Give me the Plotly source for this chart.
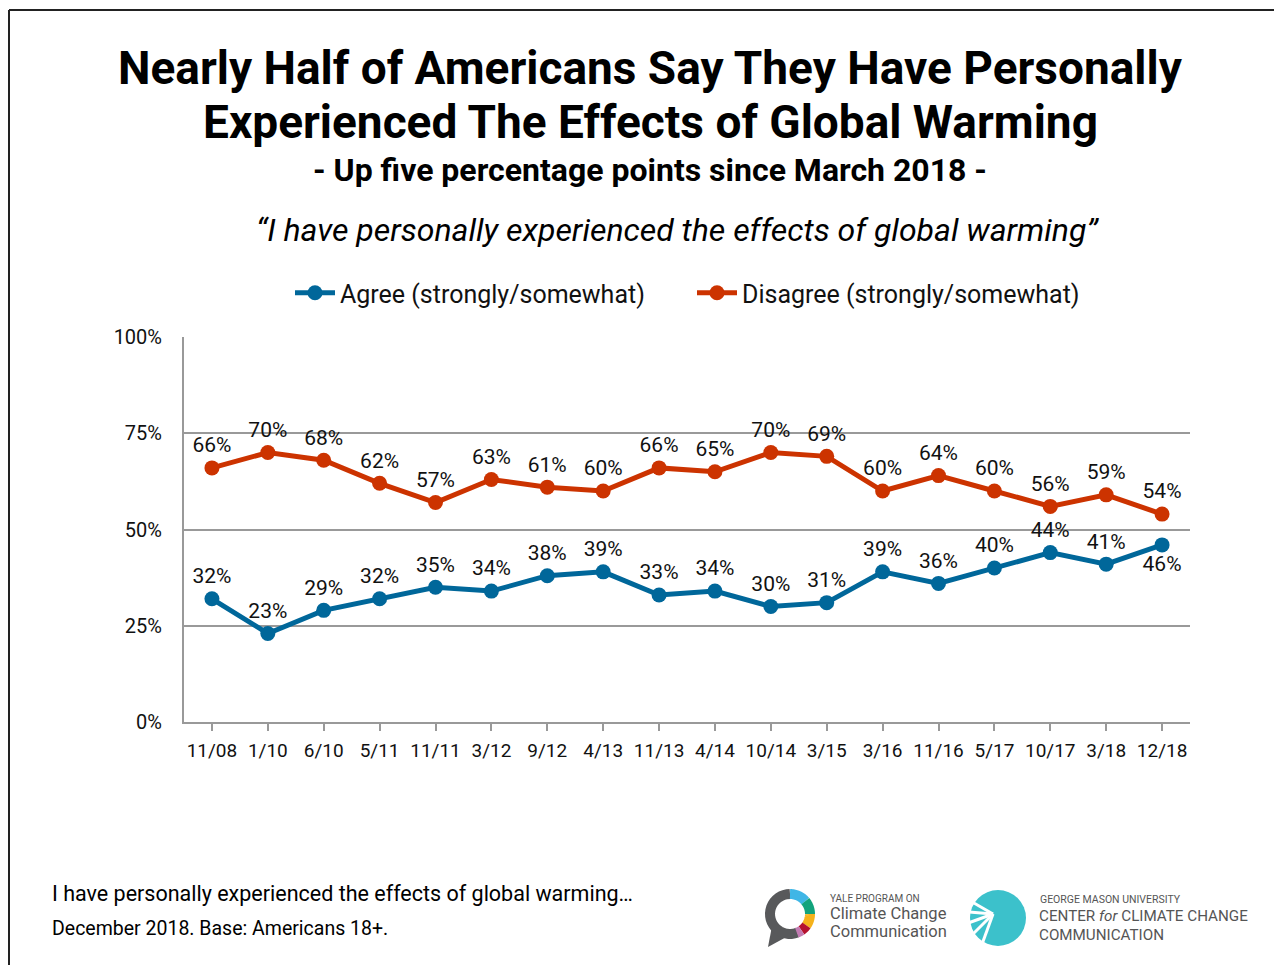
import numpy as np
import plotly.graph_objects as go

# page has an 8px body margin, so the figure is drawn 8px in from the window
OFF = 8
W, H = 1282 - OFF, 965 - OFF
PL, PT, PW, PH = 184, 337, 1006, 385  # plot area in window pixels

dates = ["11/08", "1/10", "6/10", "5/11", "11/11", "3/12", "9/12", "4/13", "11/13",
         "4/14", "10/14", "3/15", "3/16", "11/16", "5/17", "10/17", "3/18", "12/18"]
agree = [32, 23, 29, 32, 35, 34, 38, 39, 33, 34, 30, 31, 39, 36, 40, 44, 41, 46]
disagree = [66, 70, 68, 62, 57, 63, 61, 60, 66, 65, 70, 69, 60, 64, 60, 56, 59, 54]

BLUE = "#00679A"
RED = "#CC3300"
FONT = "Roboto"


def px(x):
    return (x - PL) / PW


def py(y):
    return 1 - (y - PT) / PH


agree_pos = ["top center"] * (len(agree) - 1) + ["bottom center"]

fig = go.Figure()
fig.add_trace(go.Scatter(
    x=dates, y=agree, name="Agree (strongly/somewhat)",
    mode="lines+markers+text",
    line=dict(color=BLUE, width=5), marker=dict(color=BLUE, size=15),
    text=[f"{v}%" for v in agree], textposition=agree_pos,
    textfont=dict(family=FONT, size=21, color="#111"),
))
fig.add_trace(go.Scatter(
    x=dates, y=disagree, name="Disagree (strongly/somewhat)",
    mode="lines+markers+text",
    line=dict(color=RED, width=5), marker=dict(color=RED, size=15),
    text=[f"{v}%" for v in disagree], textposition="top center",
    textfont=dict(family=FONT, size=21, color="#111"),
))

annotations = [
    dict(x=px(650), y=py(68), text="<b>Nearly Half of Americans Say They Have Personally</b>",
         font=dict(size=46, color="#000")),
    dict(x=px(650), y=py(122), text="<b>Experienced The Effects of Global Warming</b>",
         font=dict(size=46, color="#000")),
    dict(x=px(650), y=py(170), text="<b>- Up five percentage points since March 2018 -</b>",
         font=dict(size=32, color="#000")),
    dict(x=px(677), y=py(230), text="<i>\u201cI have personally experienced the effects of global warming\u201d</i>",
         font=dict(size=32, color="#000")),
    dict(x=px(50), y=py(893), xanchor="left",
         text="I have personally experienced the effects of global warming\u2026",
         font=dict(size=21.5, color="#000")),
    dict(x=px(50), y=py(928), xanchor="left", text="December 2018. Base: Americans 18+.",
         font=dict(size=19.5, color="#000")),
    dict(x=px(828), y=py(898), xanchor="left", text="YALE PROGRAM ON",
         font=dict(size=10, color="#555")),
    dict(x=px(828), y=py(913), xanchor="left", text="Climate Change",
         font=dict(size=16.5, color="#555")),
    dict(x=px(828), y=py(931), xanchor="left", text="Communication",
         font=dict(size=16.5, color="#555")),
    dict(x=px(1038), y=py(899), xanchor="left", text="GEORGE MASON UNIVERSITY",
         font=dict(size=10.5, color="#555")),
    dict(x=px(1037), y=py(916), xanchor="left", text="CENTER <i>for</i> CLIMATE CHANGE",
         font=dict(size=15.2, color="#555")),
    dict(x=px(1037), y=py(935), xanchor="left", text="COMMUNICATION",
         font=dict(size=15.2, color="#555")),
]
for a in annotations:
    a.update(xref="paper", yref="paper", showarrow=False, yanchor="middle",
             font=dict(family=FONT, **a["font"]))
    a.setdefault("xanchor", "center")

shapes = [
    dict(type="line", x0=px(9), x1=px(1290), y0=py(10), y1=py(10), line=dict(color="#222", width=2)),
    dict(type="line", x0=px(9), x1=px(9), y0=py(10), y1=py(980), line=dict(color="#222", width=2)),
]


def arc(cx, cy, r, a0, a1, color, width):
    t = np.radians(np.linspace(a0, a1, 24))
    xs = cx + r * np.cos(t)
    ys = cy - r * np.sin(t)
    path = "M " + " L ".join(f"{px(x)},{py(y)}" for x, y in zip(xs, ys))
    return dict(type="path", path=path, line=dict(color=color, width=width))


# Yale logo ring
cx, cy, r = 790, 914, 20
shapes.append(dict(type="path",
                   path=f"M {px(772)},{py(926)} L {px(768)},{py(947)} L {px(790)},{py(935)} Z",
                   fillcolor="#58595B", line=dict(width=0)))
shapes.append(arc(cx, cy, r, 90, 292, "#58595B", 10))
shapes.append(arc(cx, cy, r, 90, 40, "#3FB6E6", 10))
shapes.append(arc(cx, cy, r, 40, 0, "#12A37C", 10))
shapes.append(arc(cx, cy, r, 0, -35, "#F5B21B", 10))
shapes.append(arc(cx, cy, r, -35, -55, "#B5122F", 10))
shapes.append(arc(cx, cy, r, -55, -70, "#C27BB2", 10))

# GMU logo
shapes.append(dict(type="circle", x0=px(970), x1=px(1026), y0=py(890), y1=py(946),
                   fillcolor="#3CC1CB", line=dict(width=0)))
for ang in [150, 175, 200, 225, 250]:
    t = np.radians(ang)
    shapes.append(dict(type="line", x0=px(993), y0=py(914),
                       x1=px(993 + 30 * np.cos(t)), y1=py(914 - 30 * np.sin(t)),
                       line=dict(color="white", width=3)))

for s in shapes:
    s.update(xref="paper", yref="paper", layer="above")

fig.update_layout(
    width=W, height=H,
    margin=dict(l=PL - OFF, r=W - (PL - OFF) - PW, t=PT - OFF, b=H - (PT - OFF) - PH, pad=0),
    paper_bgcolor="white", plot_bgcolor="white",
    font=dict(family=FONT, color="#111"),
    showlegend=True,
    legend=dict(orientation="h", x=px(290), xanchor="left", y=py(293), yanchor="middle",
                font=dict(family=FONT, size=25, color="#111"), itemwidth=40,
                entrywidth=347, entrywidthmode="pixels", tracegroupgap=0),
    xaxis=dict(type="category", range=[-0.5, len(dates) - 0.5],
               showline=True, linecolor="#999", linewidth=2,
               ticks="outside", ticklen=7, tickcolor="#999", tickwidth=1.5,
               ticklabelstandoff=3,
               showgrid=False, tickfont=dict(size=19, color="#111")),
    yaxis=dict(range=[0, 100], dtick=25, ticksuffix="%",
               showline=True, linecolor="#999", linewidth=2,
               gridcolor="#999", gridwidth=1.5, zeroline=False,
               ticklabelstandoff=16, tickfont=dict(size=20, color="#111")),
    annotations=annotations,
    shapes=shapes,
)

fig.write_html("out.html")
